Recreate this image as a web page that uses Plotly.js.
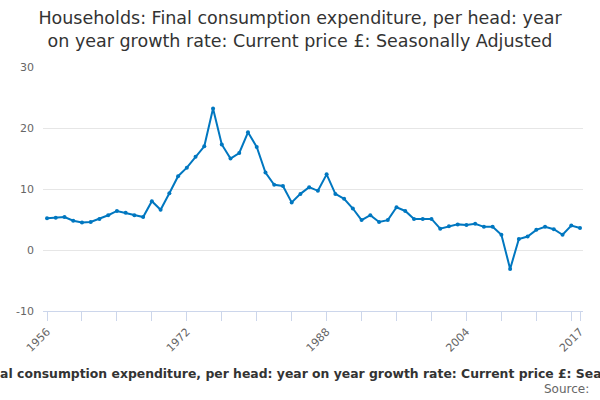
<!DOCTYPE html>
<html>
<head>
<meta charset="utf-8">
<script src="https://cdn.plot.ly/plotly-3.0.1.min.js"></script>
<style>
  body { margin: 0; }
  #chart { width: 600px; height: 400px; }
</style>
</head>
<body>
<div id="chart"></div>
<script>
// year on year growth rate, %
const years = [];
for (let y = 1956; y <= 2017; y++) years.push(y);

const growth = [
  5.2, 5.3, 5.4, 4.8, 4.5, 4.6, 5.1, 5.7, 6.4, 6.1,
  5.7, 5.4, 8.0, 6.6, 9.3, 12.1, 13.5, 15.3, 17.0, 23.2,
  17.3, 15.0, 15.9, 19.3, 16.9, 12.7, 10.7, 10.5, 7.8, 9.2,
  10.3, 9.7, 12.4, 9.2, 8.4, 6.8, 4.9, 5.7, 4.6, 4.9,
  7.0, 6.4, 5.1, 5.1, 5.1, 3.5, 3.9, 4.2, 4.1, 4.3,
  3.8, 3.8, 2.5, -3.1, 1.8, 2.2, 3.3, 3.8, 3.4, 2.5,
  4.0, 3.6
];

const tickYears = [1956, 1960, 1964, 1968, 1972, 1976, 1980, 1984, 1988,
                   1992, 1996, 2000, 2004, 2008, 2012, 2016, 2017];
const labelYears = [1956, 1972, 1988, 2004, 2017];
const yTicks = [-10, 0, 10, 20, 30];

const seriesName = "Households: Final consumption expenditure, per head: year on year growth rate: Current price £: Seasonally Adjusted";

let trace = {
  x: years,
  y: growth,
  type: "scatter",
  mode: "lines+markers",
  line: { color: "#0077c0", width: 2 },
  marker: { color: "#0077c0", size: 4 },
  hoverinfo: "x+y"
};

let layout = {
  width: 600,
  height: 400,
  font: { family: "DejaVu Sans", color: "#333" },
  paper_bgcolor: "#fff",
  plot_bgcolor: "#fff",
  showlegend: false,
  margin: { l: 43, r: 17, t: 67, b: 89 },
  title: {
    text: "Households: Final consumption expenditure, per head: year<br>on year growth rate: Current price £: Seasonally Adjusted",
    font: { size: 17.5, color: "#333" },
    x: 0.5,
    xanchor: "center",
    y: 0.94,
    yanchor: "top"
  },
  xaxis: {
    range: [1955.54, 2017.34],
    tickvals: tickYears,
    ticktext: tickYears.map(y => labelYears.includes(y) ? String(y) : ""),
    tickangle: -45,
    ticks: "outside",
    ticklen: 9,
    tickcolor: "#ccd6eb",
    showline: true,
    linecolor: "#ccd6eb",
    showgrid: false,
    zeroline: false,
    tickfont: { size: 11, color: "#666" },
    title: { text: "", font: { size: 13 } }
  },
  yaxis: {
    range: [-10, 30],
    tickvals: yTicks,
    ticktext: yTicks.map(String),
    showgrid: true,
    gridcolor: "#e6e6e6",
    zeroline: false,
    showline: false,
    ticks: "",
    ticklabelstandoff: 8,
    tickfont: { size: 11, color: "#666" }
  },
  annotations: [
    {
      text: "<b>" + seriesName + "</b>",
      xref: "paper", yref: "paper",
      x: (303 - 43) / 540, y: -0.255,
      xanchor: "center", yanchor: "middle",
      showarrow: false,
      font: { size: 12.4, color: "#333" }
    },
    {
      text: "Source:",
      xref: "paper", yref: "paper",
      x: (591 - 43) / 540, y: -0.32,
      xanchor: "right", yanchor: "middle",
      showarrow: false,
      font: { size: 12, color: "#666" }
    }
  ]
};

Plotly.newPlot("chart", [trace], layout, { displayModeBar: false, staticPlot: true });
</script>
</body>
</html>
